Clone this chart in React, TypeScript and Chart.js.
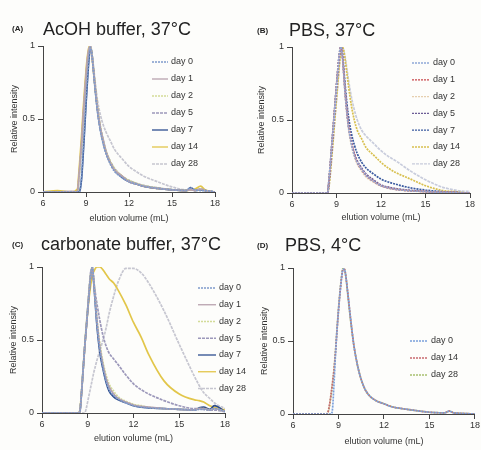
import React, { useEffect, useRef } from "react";
import { Chart, registerables } from "chart.js";
Chart.register(...registerables);

// ---------- DATA ----------
const xGrid = [6, 7, 8, 8.4, 8.5, 8.6, 8.7, 8.8, 8.9, 9.0, 9.1, 9.2, 9.3, 9.4, 9.5, 9.6, 9.8, 10, 10.2, 10.4, 10.7, 11, 11.5, 12, 12.5, 13, 14, 15, 16, 16.3, 16.6, 17, 17.3, 18];
const xGridD = [6, 7, 8, 8.2, 8.3, 8.4, 8.5, 8.6, 8.7, 8.8, 8.9, 9.0, 9.1, 9.2, 9.3, 9.4, 9.5, 9.6, 9.8, 10, 10.2, 10.4, 10.7, 11, 11.5, 12, 12.5, 13, 14, 15, 16, 16.3, 16.6, 17, 18];

const dayLabels7 = ["day 0", "day 1", "day 2", "day 5", "day 7", "day 14", "day 28"];
const dayLabels3 = ["day 0", "day 14", "day 28"];
const xTicks = [6, 9, 12, 15, 18];
const yTicks = [0, 0.5, 1];

// (A) AcOH buffer, 37°C
const a0 = [0,0,0,0,0,0.02,0.12,0.28,0.45,0.62,0.78,0.92,0.99,0.95,0.85,0.74,0.55,0.42,0.33,0.26,0.19,0.14,0.1,0.07,0.055,0.04,0.025,0.015,0.01,0.03,0.015,0.01,0.01,0];
const a1 = [0,0,0.005,0,0.1,0.22,0.35,0.52,0.66,0.8,0.91,0.98,1.0,0.95,0.86,0.76,0.57,0.44,0.35,0.27,0.2,0.15,0.11,0.07,0.055,0.04,0.025,0.015,0.01,0.015,0.01,0.02,0.01,0];
const a2 = [0,0,0,0,0.08,0.2,0.33,0.5,0.65,0.79,0.9,0.98,1.0,0.96,0.87,0.77,0.58,0.45,0.35,0.28,0.21,0.16,0.11,0.08,0.06,0.045,0.028,0.016,0.01,0.015,0.01,0.02,0.01,0];
const a5 = [0,0,0,0,0.09,0.21,0.34,0.5,0.64,0.78,0.9,0.97,1.0,0.95,0.86,0.76,0.58,0.45,0.36,0.28,0.21,0.16,0.11,0.08,0.06,0.045,0.028,0.016,0.01,0.02,0.01,0.02,0.01,0];
const a7 = [0,0,0,0,0,0.02,0.1,0.25,0.42,0.6,0.76,0.9,0.98,0.96,0.86,0.75,0.56,0.43,0.34,0.27,0.2,0.15,0.1,0.07,0.055,0.04,0.025,0.015,0.01,0.03,0.01,0.015,0.01,0];
const a14 = [0,0.01,0,0.02,0.13,0.26,0.4,0.56,0.7,0.83,0.93,0.99,1.0,0.94,0.85,0.75,0.57,0.44,0.35,0.27,0.2,0.15,0.11,0.075,0.055,0.04,0.025,0.015,0.01,0.015,0.02,0.04,0.015,0];
const a28 = [0,0,0,0,0.08,0.2,0.33,0.5,0.64,0.78,0.9,0.97,1.0,0.96,0.88,0.79,0.63,0.53,0.46,0.41,0.35,0.29,0.23,0.175,0.14,0.11,0.07,0.035,0.015,0.02,0.015,0.02,0.01,0];

// (B) PBS, 37°C
const b0 = [0,0,0,0,0.1,0.22,0.35,0.47,0.6,0.73,0.85,0.96,1.0,0.93,0.8,0.66,0.46,0.34,0.26,0.21,0.16,0.12,0.08,0.05,0.035,0.025,0.015,0.01,0.005,0.005,0.005,0.005,0,0];
const b1 = [0,0,0,0,0.09,0.21,0.34,0.47,0.6,0.73,0.85,0.95,1.0,0.94,0.81,0.67,0.47,0.35,0.27,0.21,0.16,0.12,0.08,0.05,0.035,0.025,0.015,0.01,0.005,0.005,0.005,0.005,0,0];
const b2 = [0,0,0,0,0.1,0.22,0.35,0.48,0.61,0.74,0.86,0.96,1.0,0.93,0.79,0.65,0.45,0.33,0.25,0.2,0.15,0.11,0.075,0.048,0.033,0.024,0.014,0.009,0.005,0.005,0.005,0.005,0,0];
const b5 = [0,0,0,0,0.1,0.22,0.35,0.48,0.61,0.74,0.86,0.96,1.0,0.94,0.81,0.67,0.47,0.35,0.27,0.22,0.17,0.13,0.09,0.055,0.04,0.03,0.018,0.01,0.005,0.005,0.005,0.005,0,0];
const b7 = [0,0,0,0,0.09,0.21,0.34,0.47,0.6,0.73,0.85,0.95,1.0,0.95,0.84,0.72,0.53,0.41,0.33,0.27,0.21,0.17,0.13,0.095,0.075,0.06,0.035,0.02,0.01,0.008,0.006,0.005,0.003,0];
const b14 = [0,0,0,0,0.05,0.15,0.27,0.39,0.52,0.64,0.76,0.88,0.97,1.0,0.97,0.9,0.74,0.6,0.5,0.43,0.37,0.31,0.26,0.21,0.17,0.14,0.095,0.05,0.02,0.015,0.012,0.01,0.005,0];
const b28 = [0,0,0,0,0.05,0.15,0.27,0.39,0.52,0.64,0.76,0.88,0.97,1.0,0.97,0.92,0.78,0.66,0.57,0.5,0.43,0.39,0.34,0.29,0.25,0.22,0.15,0.09,0.045,0.035,0.028,0.02,0.015,0.01];

// (C) carbonate buffer, 37°C
const c0 = [0,0,0,0,0.02,0.15,0.3,0.45,0.58,0.71,0.84,0.95,1.0,0.9,0.76,0.62,0.43,0.31,0.22,0.16,0.12,0.095,0.07,0.05,0.04,0.035,0.03,0.025,0.02,0.025,0.025,0.02,0.03,0.01];
const c1 = [0,0,0,0,0.02,0.15,0.3,0.45,0.58,0.71,0.84,0.95,1.0,0.9,0.77,0.64,0.45,0.33,0.24,0.18,0.13,0.1,0.075,0.055,0.045,0.04,0.03,0.025,0.02,0.03,0.03,0.02,0.03,0.01];
const c2 = [0,0,0,0,0.03,0.16,0.31,0.46,0.6,0.73,0.86,0.96,1.0,0.91,0.78,0.65,0.47,0.35,0.26,0.2,0.15,0.11,0.08,0.06,0.05,0.04,0.03,0.025,0.02,0.03,0.03,0.02,0.03,0.01];
const c5 = [0,0,0,0,0.03,0.15,0.3,0.45,0.58,0.72,0.86,0.97,0.98,0.9,0.82,0.75,0.63,0.53,0.46,0.41,0.37,0.33,0.26,0.2,0.16,0.13,0.085,0.05,0.03,0.03,0.025,0.02,0.02,0.01];
const c7 = [0,0,0,0,0.02,0.15,0.3,0.45,0.58,0.71,0.84,0.95,1.0,0.88,0.74,0.6,0.41,0.3,0.21,0.15,0.11,0.09,0.07,0.05,0.04,0.035,0.03,0.025,0.02,0.035,0.04,0.025,0.05,0.01];
const c14 = [0,0,0,0,0.03,0.15,0.3,0.45,0.58,0.7,0.8,0.88,0.94,0.97,0.99,1.0,1.0,0.98,0.95,0.92,0.89,0.84,0.74,0.62,0.52,0.4,0.22,0.13,0.09,0.085,0.075,0.05,0.04,0.02];
const c28 = [0,0,0,0,0,0,0,0,0.03,0.08,0.13,0.18,0.23,0.28,0.32,0.36,0.43,0.5,0.58,0.68,0.8,0.9,0.99,0.99,0.96,0.89,0.7,0.47,0.25,0.19,0.14,0.1,0.07,0.03];

// (D) PBS, 4°C
const d0 = [0,0,0,0,0,0,0,0.03,0.2,0.4,0.57,0.71,0.83,0.93,0.99,0.99,0.93,0.84,0.65,0.48,0.36,0.27,0.18,0.13,0.09,0.07,0.05,0.04,0.025,0.012,0.008,0.02,0.008,0.005,0];
const d14 = [0,0,0,0,0.01,0.06,0.13,0.21,0.3,0.42,0.57,0.71,0.83,0.93,0.99,0.99,0.93,0.84,0.65,0.48,0.36,0.27,0.18,0.13,0.09,0.07,0.05,0.04,0.025,0.012,0.008,0.02,0.008,0.005,0];
const d28 = [0,0,0,0,0.01,0.05,0.12,0.2,0.3,0.43,0.58,0.72,0.84,0.94,1.0,0.99,0.93,0.83,0.64,0.48,0.36,0.27,0.18,0.13,0.09,0.07,0.05,0.04,0.025,0.012,0.008,0.02,0.008,0.005,0];

// ---------- STYLES ----------
const FONT = "'Liberation Sans', Arial, Helvetica, sans-serif";
const stylesAC = [
  { color: "#7f9bcb", dash: [2, 1] },
  { color: "#b8a2ae", dash: [] },
  { color: "#d3dc98", dash: [2, 1] },
  { color: "#9c98ba", dash: [3, 1] },
  { color: "#2e4e8e", dash: [] },
  { color: "#e2c64a", dash: [] },
  { color: "#c6c6d0", dash: [3, 1] },
];
const stylesB = [
  { color: "#8ea8d8", dash: [2, 1] },
  { color: "#c8454a", dash: [2, 1] },
  { color: "#e6cfae", dash: [2, 1] },
  { color: "#6c5c96", dash: [2, 1] },
  { color: "#3a5aa0", dash: [2, 1] },
  { color: "#d8c050", dash: [2, 1] },
  { color: "#c8ccdc", dash: [3, 1] },
];
const stylesD = [
  { color: "#7aa0dc", dash: [2, 1] },
  { color: "#c86a70", dash: [2, 1] },
  { color: "#a8c070", dash: [2, 1] },
];

// ---------- PLUGINS ----------
const insetLegend = {
  id: "insetLegend",
  afterDraw(chart: any, _a: any, opts: any) {
    const ctx = chart.ctx;
    ctx.save();
    chart.data.datasets.forEach((ds: any, i: number) => {
      const y = opts.y + i * opts.spacing;
      ctx.beginPath();
      ctx.setLineDash(ds.borderDash || []);
      ctx.strokeStyle = ds.borderColor;
      ctx.lineWidth = 1.3;
      ctx.moveTo(opts.x, y);
      ctx.lineTo(opts.x + opts.len, y);
      ctx.stroke();
      ctx.setLineDash([]);
      ctx.fillStyle = "#333";
      ctx.font = `9px ${FONT}`;
      ctx.textBaseline = "middle";
      ctx.textAlign = "left";
      ctx.fillText(ds.label, opts.x + opts.len + 3, y);
    });
    ctx.restore();
  },
};

const panelTitle = {
  id: "panelTitle",
  afterDraw(chart: any, _a: any, opts: any) {
    const ctx = chart.ctx;
    ctx.save();
    ctx.fillStyle = "#222";
    ctx.textAlign = "left";
    ctx.textBaseline = "alphabetic";
    ctx.font = `bold 8px ${FONT}`;
    ctx.fillText(opts.tag, opts.tagX, opts.y - 3.5);
    ctx.font = `18px ${FONT}`;
    ctx.fillText(opts.text, opts.x, opts.y);
    ctx.restore();
  },
};

type PanelDef = {
  key: string;
  left: number; top: number; w: number; h: number;
  xs: number[];
  series: number[][];
  labels: string[];
  styles: { color: string; dash: number[] }[];
  tag: string; title: string; tagX: number; titleX: number; titleY: number;
  pad: { top: number; right: number };
  yW: number; xH: number; yTitlePad: number; xTitlePad: number;
  legend: { x: number; y: number; len: number; spacing: number };
};

const panels: PanelDef[] = [
  {
    key: "A", left: 0, top: 0, w: 240, h: 225, xs: xGrid,
    series: [a0, a1, a2, a5, a7, a14, a28], labels: dayLabels7, styles: stylesAC,
    tag: "(A)", title: "AcOH buffer, 37°C", tagX: 12, titleX: 43, titleY: 34.5,
    pad: { top: 46, right: 25 }, yW: 43, xH: 33, yTitlePad: 9, xTitlePad: 1,
    legend: { x: 152, y: 62, len: 16, spacing: 17 },
  },
  {
    key: "B", left: 240, top: 0, w: 241, h: 225, xs: xGrid,
    series: [b0, b1, b2, b5, b7, b14, b28], labels: dayLabels7, styles: stylesB,
    tag: "(B)", title: "PBS, 37°C", tagX: 17, titleX: 49, titleY: 36,
    pad: { top: 47, right: 11 }, yW: 52, xH: 32, yTitlePad: 16.5, xTitlePad: 2.5,
    legend: { x: 172, y: 63, len: 18, spacing: 16.8 },
  },
  {
    key: "C", left: 0, top: 225, w: 250, h: 225, xs: xGrid,
    series: [c0, c1, c2, c5, c7, c14, c28], labels: dayLabels7, styles: stylesAC,
    tag: "(C)", title: "carbonate buffer, 37°C", tagX: 12, titleX: 41, titleY: 25,
    pad: { top: 42, right: 25 }, yW: 42, xH: 37, yTitlePad: 8, xTitlePad: 6,
    legend: { x: 198, y: 63, len: 18, spacing: 16.75 },
  },
  {
    key: "D", left: 240, top: 225, w: 241, h: 225, xs: xGridD,
    series: [d0, d14, d28], labels: dayLabels3, styles: stylesD,
    tag: "(D)", title: "PBS, 4°C", tagX: 17, titleX: 45, titleY: 26,
    pad: { top: 43, right: 6 }, yW: 53, xH: 36, yTitlePad: 19.5, xTitlePad: 3,
    legend: { x: 170, y: 116, len: 18, spacing: 17 },
  },
];

function Panel({ p }: { p: PanelDef }) {
  const ref = useRef<HTMLCanvasElement | null>(null);
  useEffect(() => {
    if (!ref.current) return;
    const datasets = p.series.map((vals, i) => ({
      label: p.labels[i],
      data: vals.map((v, j) => ({ x: p.xs[j], y: v })),
      borderColor: p.styles[i].color,
      borderDash: p.styles[i].dash,
      borderWidth: 1.7,
      pointRadius: 0,
      fill: false,
      cubicInterpolationMode: "monotone" as const,
    }));
    const axisColor = "#444";
    const chart = new Chart(ref.current, {
      type: "line",
      data: { datasets },
      plugins: [insetLegend, panelTitle],
      options: {
        animation: false,
        responsive: false,
        events: [],
        layout: { padding: { top: p.pad.top, right: p.pad.right, bottom: 0, left: 0 } },
        plugins: {
          legend: { display: false },
          tooltip: { enabled: false },
          title: { display: false },
          insetLegend: p.legend,
          panelTitle: { tag: p.tag, text: p.title, tagX: p.tagX, x: p.titleX, y: p.titleY },
        } as any,
        scales: {
          x: {
            type: "linear",
            min: xTicks[0],
            max: xTicks[xTicks.length - 1],
            afterBuildTicks: (s: any) => { s.ticks = xTicks.map((v) => ({ value: v })); },
            afterFit: (s: any) => { s.height = p.xH; },
            ticks: { color: "#333", font: { family: FONT, size: 9 }, padding: 1, maxRotation: 0, autoSkip: false },
            grid: { display: true, drawOnChartArea: false, drawTicks: true, tickLength: 5, color: axisColor, lineWidth: 1 },
            border: { display: true, color: axisColor, width: 1 },
            title: { display: true, text: "elution volume (mL)", color: "#333", font: { family: FONT, size: 9 }, padding: { top: 0, bottom: p.xTitlePad } },
          },
          y: {
            type: "linear",
            min: yTicks[0],
            max: yTicks[yTicks.length - 1],
            afterBuildTicks: (s: any) => { s.ticks = yTicks.map((v) => ({ value: v })); },
            afterFit: (s: any) => { s.width = p.yW; },
            ticks: { color: "#333", font: { family: FONT, size: 9 }, padding: 3, callback: (v: any) => String(v) },
            grid: { display: true, drawOnChartArea: false, drawTicks: true, tickLength: 5, color: axisColor, lineWidth: 1 },
            border: { display: true, color: axisColor, width: 1 },
            title: { display: true, text: "Relative intensity", color: "#333", font: { family: FONT, size: 9 }, padding: { top: p.yTitlePad, bottom: 0 } },
          },
        },
      } as any,
    });
    return () => chart.destroy();
  }, [p]);
  return (
    <canvas
      ref={ref}
      width={p.w}
      height={p.h}
      style={{ position: "absolute", left: p.left, top: p.top, width: p.w, height: p.h }}
    />
  );
}

export default function App() {
  return (
    <div style={{ position: "fixed", left: 0, top: 0, width: 481, height: 450, background: "#fdfdfb", overflow: "hidden" }}>
      {panels.map((p) => (
        <Panel key={p.key} p={p} />
      ))}
    </div>
  );
}
